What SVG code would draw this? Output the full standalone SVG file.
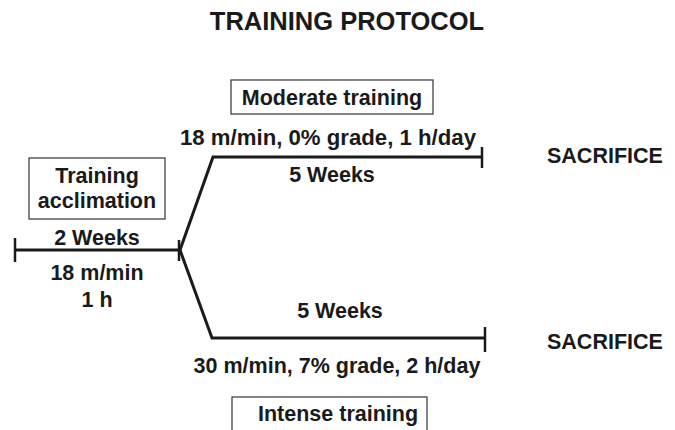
<svg xmlns="http://www.w3.org/2000/svg" width="675" height="430" viewBox="0 0 675 430">
<style>
text{font-family:"Liberation Sans",Arial,sans-serif;font-weight:bold;fill:#1a1a1a;font-size:21.5px}
.c{text-anchor:middle}
.box{fill:#fff;stroke:#333;stroke-width:1.2}
.ln{fill:none;stroke:#1a1a1a;stroke-width:3;stroke-linejoin:miter}
.tk{stroke:#1a1a1a;stroke-width:2.5}
</style>
<rect width="675" height="430" fill="#fff"/>
<text id="title" class="c" x="347" y="30" style="font-size:25.5px">TRAINING PROTOCOL</text>
<g id="connectors">
<line class="ln" x1="15" y1="250" x2="180" y2="250"/>
<line class="tk" x1="15" y1="238" x2="15" y2="262"/>
<line class="tk" x1="179" y1="240" x2="179" y2="261"/>
<polyline class="ln" points="180,250 213,157 482,157"/>
<line class="tk" x1="482" y1="147" x2="482" y2="168"/>
<polyline class="ln" points="180,250 212,338 485,338"/>
<line class="tk" x1="485" y1="327" x2="485" y2="352"/>
</g>
<g id="acclimation">
<rect class="box" x="29" y="158" width="136" height="61"/>
<text class="c" x="97" y="183">Training</text>
<text class="c" x="97" y="208">acclimation</text>
</g>
<g id="acclimation-labels">
<text class="c" x="97" y="245">2 Weeks</text>
<text class="c" x="97" y="280">18 m/min</text>
<text class="c" x="97" y="307">1 h</text>
</g>
<g id="moderate">
<rect class="box" x="231" y="80" width="202" height="34"/>
<text class="c" x="332" y="105">Moderate training</text>
</g>
<g id="moderate-labels">
<text x="180" y="145" textLength="296" lengthAdjust="spacingAndGlyphs">18 m/min, 0% grade, 1 h/day</text>
<text class="c" x="332" y="182">5 Weeks</text>
</g>
<g id="intense-labels">
<text class="c" x="340" y="318">5 Weeks</text>
<text class="c" x="337" y="373">30 m/min, 7% grade, 2 h/day</text>
</g>
<g id="intense">
<rect class="box" x="232" y="397" width="195" height="40"/>
<text x="258" y="421">Intense training</text>
</g>
<g id="sacrifice1"><text x="547" y="163">SACRIFICE</text></g>
<g id="sacrifice2"><text x="547" y="349">SACRIFICE</text></g>
</svg>
